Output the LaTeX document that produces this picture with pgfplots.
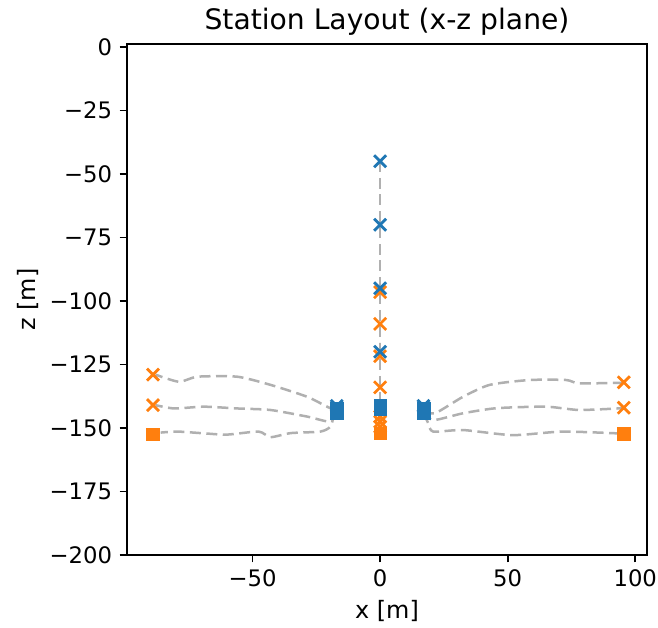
\documentclass[border=0pt]{standalone}
\usepackage{pgfplots}
\pgfplotsset{compat=1.18}
\usepackage{fontspec}
\setmainfont{DejaVu Sans}
\definecolor{mblue}{HTML}{1F77B4}
\definecolor{morange}{HTML}{FF7F0E}
\definecolor{mgray}{HTML}{B0B0B0}
\begin{document}
\begin{tikzpicture}
\begin{axis}[name=ax, scale only axis, width=520bp, height=511bp,
 xmin=-99.2, xmax=104.6, ymin=-200, ymax=1.2,
 xtick={-50,0,50,100}, xticklabels={−50,0,50,100},
 ytick={-200,-175,-150,-125,-100,-75,-50,-25,0},
 yticklabels={−200,−175,−150,−125,−100,−75,−50,−25,0},
 tick align=outside, tick pos=left, major tick length=7.3bp,
 every tick/.style={black, line width=1.65bp},
 axis line style={line width=1.65bp},
 ticklabel style={font=\fontsize{22.8}{27}\selectfont},
 xticklabel style={anchor=north, inner sep=0pt, yshift=-7.5bp},
 yticklabel style={anchor=east, inner sep=0pt, xshift=-7.5bp},
 label style={font=\fontsize{24}{29}\selectfont},
 title={Station Layout (x-z plane)},
 title style={font=\fontsize{28.3}{34}\selectfont, at={(axis description cs:0.5,1)}, anchor=center, yshift=16bp},
 xlabel={x [m]}, ylabel={z [m]},
 ylabel style={at={(axis description cs:-0.1904,0.5)}, anchor=center},
 xlabel style={at={(axis description cs:0.5,0)}, anchor=center, yshift=-56bp},
 clip=false,
]
% connecting dashed lines
\pgfplotsset{gl/.style={mgray, line width=2.5bp, dash pattern=on 11bp off 5.5bp, smooth, tension=0.4, no markers}}
\addplot[gl] coordinates {(0,-45) (0,-70) (0,-95) (0,-120) (0,-135) (0,-150)};
\addplot[gl] coordinates {(-17,-142) (-19.5,-142.2) (-28.6,-137.7) (-43,-133) (-56,-129.8) (-71.6,-129.8) (-78.8,-131.8) (-88,-129)};
\addplot[gl] coordinates {(-17,-143.5) (-19.5,-147.5) (-28.6,-145.5) (-43,-142.9) (-56,-142.3) (-69,-141.6) (-80.7,-142.3) (-88,-141)};
\addplot[gl] coordinates {(-17,-144) (-18.2,-145.5) (-19.5,-149.5) (-23.4,-151.4) (-35,-152) (-43,-153.6) (-47.6,-151.4) (-60,-152.6) (-69,-152.1) (-79.4,-151.4) (-86,-151.8)};
\addplot[gl] coordinates {(17,-143) (21.5,-144.2) (32.5,-137.7) (43,-133) (58.6,-131.1) (72.9,-131.1) (78,-132.4) (95,-132.2)};
\addplot[gl] coordinates {(17,-143.5) (20.8,-146.9) (32.5,-144.2) (45.6,-142.2) (65,-141.6) (78,-142.9) (95,-142.2)};
\addplot[gl] coordinates {(17,-144) (18.9,-148.2) (20.8,-151.4) (32.5,-150.8) (52,-152.8) (71.6,-151.4) (95,-152.2)};
% orange
\addplot[only marks, mark=x, mark size=8.5bp, morange, line width=2.8bp] coordinates {
 (-89,-129) (-89,-141) (95.5,-132) (95.5,-142)
 (0,-96.5) (0,-109) (0,-121.7) (0,-134) (0,-145.5) (0,-147.5) (0,-149.5)};
\addplot[only marks, mark=square*, mark size=6.3bp, morange, line width=0.5bp] coordinates {
 (-89,-152.5) (95.5,-152.2) (0,-152)};
% blue
\addplot[only marks, mark=x, mark size=8.5bp, mblue, line width=2.8bp] coordinates {
 (0,-45) (0,-70) (0,-95) (0,-120) (-17,-141.3) (17,-141.3)};
\addplot[only marks, mark=square*, mark size=6.3bp, mblue, line width=0.5bp] coordinates {
 (-17,-142.2) (-17,-144.2) (17,-142.2) (17,-144.2) (0,-141.2) (0,-142.4)};
\end{axis}
\pgfresetboundingbox
\path[use as bounding box] ([xshift=-127bp,yshift=-73bp]ax.south west) rectangle ([xshift=11bp,yshift=44bp]ax.north east);
\end{tikzpicture}
\end{document}
